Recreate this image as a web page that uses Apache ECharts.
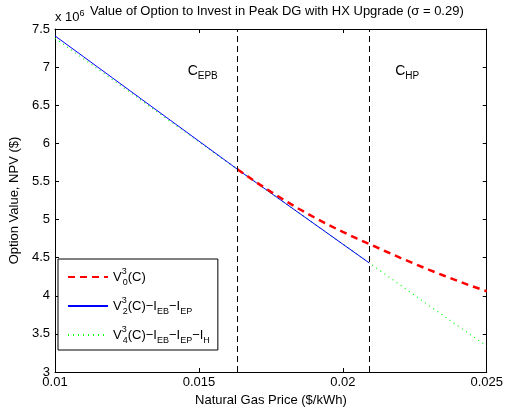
<!DOCTYPE html>
<html><head><meta charset="utf-8">
<script src="https://cdn.jsdelivr.net/npm/echarts@6/dist/echarts.min.js"></script>
<style>html,body{margin:0;padding:0;background:#fff}#c{width:506px;height:412px}</style>
</head><body><div id="c"></div>
<script>
// ---- data (values in units of 10^6 $) ----
const xTicks = [0.01, 0.015, 0.02, 0.025];
const yTicks = [3, 3.5, 4, 4.5, 5, 5.5, 6, 6.5, 7, 7.5];
const thresholds = [0.016335, 0.020922];          // C_EPB, C_HP
const thresholdNames = ['EPB', 'HP'];
const labelPrice = [0.015132, 0.022235];
const labelValue = [6.95, 6.95];

const redPrice = [0.016335, 0.017, 0.0175, 0.018, 0.0185, 0.019, 0.0195, 0.02, 0.0205, 0.020922,
                  0.0215, 0.022, 0.0225, 0.023, 0.0235, 0.024, 0.0245, 0.025];
const redValue = [5.66, 5.487, 5.364, 5.247, 5.135, 5.030, 4.930, 4.837, 4.749, 4.68,
                  4.581, 4.498, 4.418, 4.340, 4.266, 4.194, 4.124, 4.06];

const bluePrice = [0.01, 0.011, 0.012, 0.013, 0.014, 0.015, 0.016, 0.016335, 0.017, 0.018, 0.019, 0.02, 0.020922];
const blueValue = [7.41, 7.134, 6.858, 6.581, 6.305, 6.029, 5.753, 5.66, 5.482, 5.214, 4.946, 4.677, 4.43];

const greenPrice = [0.01, 0.012, 0.014, 0.016, 0.016335, 0.018, 0.02, 0.020922, 0.022, 0.023, 0.024, 0.025];
const greenValue = [7.38, 6.835, 6.29, 5.75, 5.66, 5.214, 4.677, 4.43, 4.14, 3.87, 3.605, 3.34];

const FONT = '"Liberation Sans", Arial, Helvetica, sans-serif';
const pairs = (xs, ys) => xs.map((x, i) => [x, ys[i]]);

const legendText = {
  V0: '{m|V}{sp|3}{sb|0}{m|(C)}',
  V2: '{m|V}{sp|3}{sb|2}{m|(C)−I}{sb2|EB}{m|−I}{sb2|EP}',
  V4: '{m|V}{sp|3}{sb|4}{m|(C)−I}{sb2|EB}{m|−I}{sb2|EP}{m|−I}{sb2|H}'
};

const chart = echarts.init(document.getElementById('c'), null, {renderer: 'canvas'});
const axisCommon = {
  axisLine: {show: true, onZero: false, lineStyle: {color: '#000', width: 1}},
  axisTick: {show: true, inside: true, length: 4, lineStyle: {color: '#000'}},
  splitLine: {show: false}
};
const yMin = yTicks[0], yMax = yTicks[yTicks.length - 1];
chart.setOption({
  animation: false,
  backgroundColor: '#fff',
  textStyle: {fontFamily: FONT},
  title: [
    {text: 'Value of Option to Invest in Peak DG with HX Upgrade (σ = 0.29)', left: 90, top: 5, padding: 0,
     textStyle: {fontSize: 13, fontWeight: 'normal', color: '#000', fontFamily: FONT}},
    {text: '{a|x 10}{b|6}', left: 55, top: 9, padding: 0,
     textStyle: {fontFamily: FONT, fontWeight: 'normal', rich: {
       a: {fontSize: 13, lineHeight: 16, fontWeight: 'normal', color: '#000', fontFamily: FONT},
       b: {fontSize: 9, lineHeight: 7, fontWeight: 'normal', verticalAlign: 'top', color: '#000', fontFamily: FONT}}}}
  ],
  grid: {left: 55, right: 17, top: 29, bottom: 40},
  xAxis: [
    Object.assign({type: 'value', position: 'bottom', min: xTicks[0], max: xTicks[xTicks.length - 1], interval: 0.005,
      name: 'Natural Gas Price ($/kWh)', nameLocation: 'middle', nameGap: 20,
      nameTextStyle: {fontSize: 13, color: '#000', fontFamily: FONT},
      axisLabel: {fontSize: 13, color: '#000', margin: 4, fontFamily: FONT}}, axisCommon),
    Object.assign({type: 'value', position: 'top', min: xTicks[0], max: xTicks[xTicks.length - 1], interval: 0.005,
      axisLabel: {show: false}}, axisCommon)
  ],
  yAxis: [
    Object.assign({type: 'value', position: 'left', min: yMin, max: yMax, interval: 0.5,
      name: 'Option Value, NPV ($)', nameLocation: 'middle', nameGap: 24,
      nameTextStyle: {fontSize: 13, color: '#000', fontFamily: FONT},
      axisLabel: {fontSize: 13, color: '#000', margin: 5, fontFamily: FONT}}, axisCommon),
    Object.assign({type: 'value', position: 'right', min: yMin, max: yMax, interval: 0.5,
      axisLabel: {show: false}}, axisCommon)
  ],
  legend: {
    orient: 'vertical', left: 58, top: 259,
    data: ['V0', 'V2', 'V4'],
    backgroundColor: '#fff', borderColor: '#000', borderWidth: 1, borderRadius: 0,
    padding: [8, 8, 5, 9], itemGap: 9, itemWidth: 40, itemHeight: 14,
    itemStyle: {opacity: 0},
    formatter: n => legendText[n],
    textStyle: {fontFamily: FONT, rich: {
      m: {fontSize: 13, lineHeight: 20, color: '#000', fontFamily: FONT},
      sp: {fontSize: 9, lineHeight: 9, width: 0, verticalAlign: 'top', color: '#000', fontFamily: FONT},
      sb: {fontSize: 9, lineHeight: 9, verticalAlign: 'bottom', color: '#000', fontFamily: FONT, padding: [0, 0, 0, 1]},
      sb2: {fontSize: 9, lineHeight: 9, verticalAlign: 'bottom', color: '#000', fontFamily: FONT}
    }}
  },
  series: [
    {name: 'V4', type: 'line', xAxisIndex: 0, yAxisIndex: 0, data: pairs(greenPrice, greenValue),
     symbol: 'none', showSymbol: false, z: 2, color: '#00ff00',
     lineStyle: {color: '#00ff00', width: 1.2, type: [1, 4]},
     markLine: {silent: true, symbol: ['none', 'none'], label: {show: false},
       lineStyle: {color: '#000', width: 1, type: [6, 4]},
       data: thresholds.map(v => [{coord: [v, yMin]}, {coord: [v, yMax]}])},
     markPoint: {silent: true, symbol: 'circle', symbolSize: 1, itemStyle: {color: 'rgba(0,0,0,0)'},
       data: thresholdNames.map((n, i) => ({coord: [labelPrice[i], labelValue[i]], value: n})),
       label: {show: true, position: 'inside', formatter: p => '{c|C}{s|' + p.value + '}',
         rich: {c: {fontSize: 14, lineHeight: 20, color: '#000', fontFamily: FONT},
                s: {fontSize: 10, lineHeight: 8, verticalAlign: 'bottom', color: '#000', fontFamily: FONT}}}}},
    {name: 'V2', type: 'line', xAxisIndex: 0, yAxisIndex: 0, data: pairs(bluePrice, blueValue),
     symbol: 'none', showSymbol: false, z: 3, color: '#0000ff',
     lineStyle: {color: '#0000ff', width: 1}},
    {name: 'V0', type: 'line', xAxisIndex: 0, yAxisIndex: 0, data: pairs(redPrice, redValue),
     symbol: 'none', showSymbol: false, z: 4, color: '#ff0000',
     lineStyle: {color: '#ff0000', width: 2.5, type: [7, 5]}}
  ]
});
</script></body></html>
